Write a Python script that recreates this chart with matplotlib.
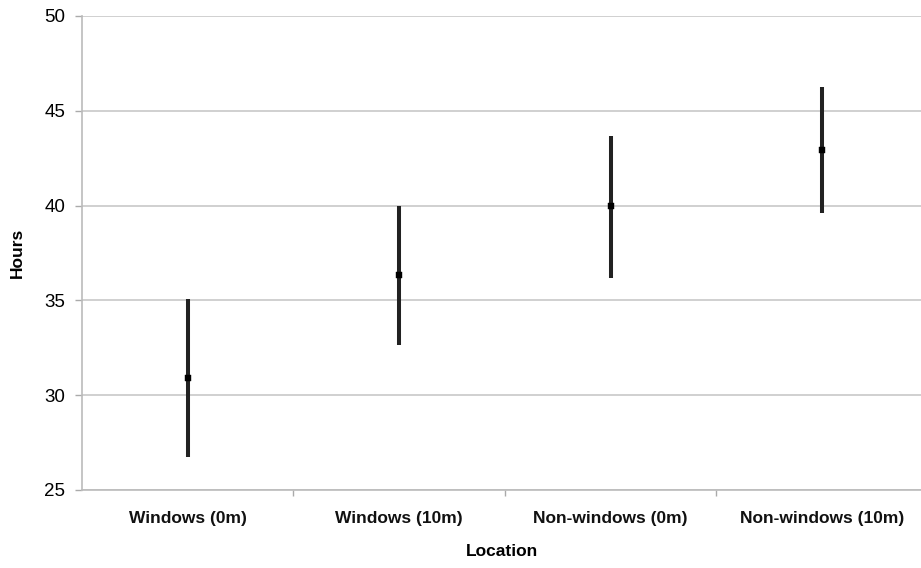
import matplotlib
matplotlib.use("Agg")
import matplotlib.pyplot as plt
import numpy as np

categories = ["Windows (0m)", "Windows (10m)", "Non-windows (0m)", "Non-windows (10m)"]
means = [30.9, 36.35, 40.0, 42.95]
lower = [26.75, 32.65, 36.2, 39.6]
upper = [35.05, 40.0, 43.65, 46.25]
yticks = [25, 30, 35, 40, 45, 50]

plt.rcParams['font.family'] = ['Liberation Sans', 'DejaVu Sans']

fig = plt.figure(figsize=(9.21, 5.68), dpi=100)
ax = fig.add_axes([82/921, 1-490/568, 1-82/921, (490-16)/568])

x = np.arange(len(categories))
m = np.array(means)
yerr = np.vstack([m - np.array(lower), np.array(upper) - m])
ax.errorbar(x, m, yerr=yerr, fmt='s', color='#000000', ecolor='#222222',
            elinewidth=2.9, capsize=0, markersize=4.6, markeredgecolor='#000000',
            markeredgewidth=0.3, zorder=3)

ax.set_ylim(25, 50)
ax.set_xlim(-0.5, 3.467)
ax.set_yticks(yticks)
ax.set_yticklabels([str(t) for t in yticks], fontsize=13.5, color='#000000')
ax.yaxis.grid(True, color='#c4c4c4', linewidth=1.1)
ax.set_axisbelow(True)

ax.set_xticks(x)
ax.set_xticklabels(categories, fontsize=12.5, fontweight='bold', color='#111111')
ax.tick_params(axis='x', length=0, pad=15)
ax.set_xticks([0.5, 1.5, 2.5], minor=True)
ax.tick_params(axis='x', which='minor', length=4, color='#aaaaaa', width=1)
ax.tick_params(axis='y', length=5, color='#aaaaaa', width=1, pad=7)

for s in ['top', 'right']:
    ax.spines[s].set_visible(False)
for s in ['left', 'bottom']:
    ax.spines[s].set_color('#bbbbbb')
    ax.spines[s].set_linewidth(1.2)

ax.set_ylabel("Hours", fontsize=12.5, fontweight='bold', labelpad=14)
ax.set_xlabel("Location", fontsize=12.5, fontweight='bold', labelpad=13)

fig.savefig("out.png", dpi=100)
